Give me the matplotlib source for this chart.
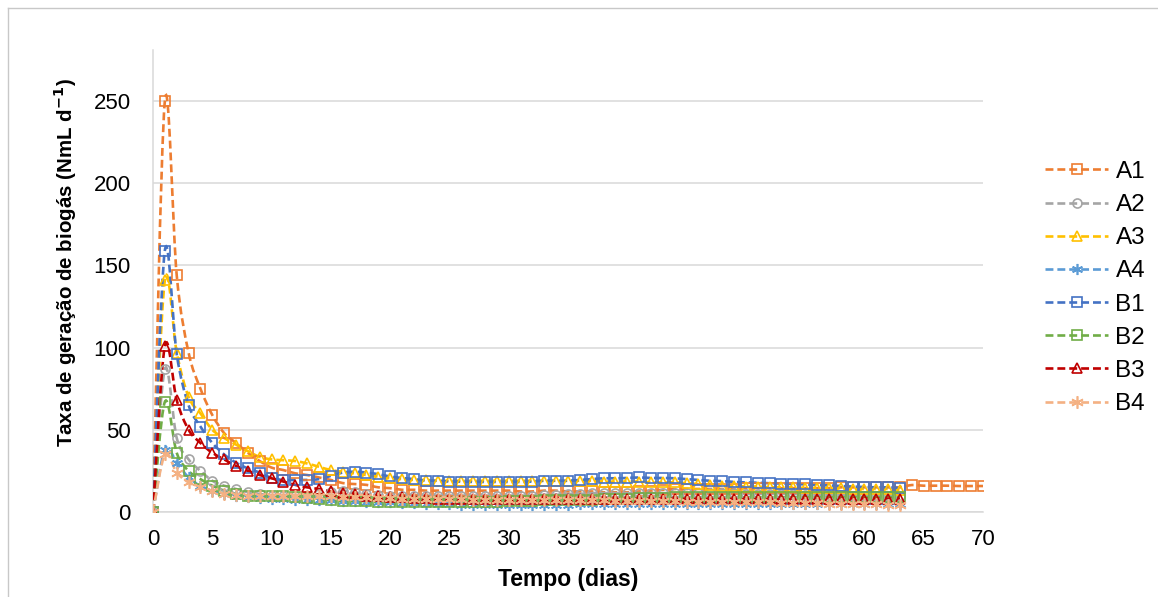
import numpy as np
import matplotlib
matplotlib.use("Agg")
import matplotlib.pyplot as plt
from matplotlib.path import Path
from matplotlib.patches import PathPatch
from matplotlib.lines import Line2D

plt.rcParams['font.family'] = ['Liberation Sans', 'DejaVu Sans']

# days 0..70 for A1, 0..63 for the others
a1 = [0, 250, 144, 97, 75, 59, 48, 42, 36, 31,
      27, 25.5, 23.5, 22.5, 21, 19.5, 17.6, 17, 16.5, 15,
      14.5, 13.5, 13.5, 13, 13, 13, 13, 13, 13, 13,
      13, 12.5, 12.5, 13, 13, 12.5, 12.5, 12.5, 12, 12,
      12, 12.5, 13, 13.5, 14, 14, 14, 14, 14, 14,
      14.5, 14.5, 14.5, 14.5, 14.5, 14.5, 14.5, 14.5, 15, 15,
      15, 15, 15, 15, 16.4, 16, 16, 16, 15.8, 15.8,
      15.8]
a2 = [0, 87, 45, 32, 25, 19, 16, 14, 12, 11,
      10, 10, 10, 10, 11, 12, 13, 12, 11, 10.5,
      10, 10, 10, 10, 10, 10, 10, 10, 10, 10,
      10, 10, 10, 10.5, 10.5, 11, 11, 11.5, 11.5, 11.5,
      11.5, 11.5, 11.5, 11.5, 11.5, 11.5, 11.5, 11.5, 11.5, 11.5,
      11, 11, 11, 11, 11, 10.5, 10.5, 10.5, 10.5, 10,
      10, 10, 10, 10]
a3 = [0, 141, 97, 70, 60, 50, 45, 41, 37, 33.5,
      32, 31.5, 31, 29.5, 27.5, 25.5, 24.5, 23.5, 22.5, 21.5,
      20.5, 20, 19.5, 19.5, 19, 19, 19, 19, 19, 19,
      19, 19, 19, 19, 19, 19, 19, 19, 18.5, 18.5,
      18.5, 18.5, 18, 18, 18, 17.5, 17, 16.5, 16, 16,
      15.5, 15.5, 15, 15, 15, 14.5, 14.5, 14.5, 14.5, 14,
      14, 14, 14, 13.5]
a4 = [0, 38, 30, 21, 16, 13, 11, 10, 9, 8.5,
      8, 8, 7.5, 7, 7, 7, 6.5, 6.5, 6, 6,
      6, 5.5, 5.5, 5, 5, 5, 4.5, 4.5, 4.5, 4.5,
      4.5, 4.5, 4.5, 4.5, 4.5, 4.5, 5, 5, 5, 5,
      5, 5, 5, 5, 5, 5, 5, 5, 5, 5,
      5, 5, 5, 5, 5, 5, 5, 5, 5, 5,
      5, 5, 5, 5]
b1 = [0, 159, 96, 65, 52, 42, 35, 30, 26.5, 24,
      20.7, 19.5, 19.5, 19.5, 20, 22, 24, 24.5, 24, 23,
      21.6, 20.7, 20, 19, 19, 18.5, 18.5, 18.3, 18.3, 18.3,
      18.3, 18.3, 18.5, 19, 19, 19, 19.5, 20, 20.5, 20.5,
      20.7, 21, 20.7, 20.7, 20.5, 20, 19.5, 19, 18.8, 18.3,
      18, 17.8, 17.5, 17.3, 17, 16.8, 16.4, 16.2, 15.8, 15.5,
      15.2, 15, 15, 14.6]
b2 = [0, 67, 36, 25, 20, 16, 13, 11, 10, 10,
      10, 9.5, 9, 8.5, 8, 7, 6.5, 6.5, 6.5, 6,
      6, 6, 6, 6, 6, 6, 6, 6, 6, 6,
      6.5, 6.5, 6.5, 7, 7, 7, 7.5, 7.5, 8, 8,
      8, 8.5, 8.5, 8.5, 9, 9, 9, 9, 9, 9,
      9, 9, 9, 9, 9, 9, 9, 9, 9, 9,
      9, 9, 9, 9]
b3 = [0, 101, 68, 50, 42, 36, 32, 28, 25, 22.5,
      20.5, 18.5, 16.5, 15, 14, 12.5, 11.5, 11, 10, 9.5,
      9, 9, 8.5, 8.5, 8, 8, 8, 8, 8, 8,
      8, 8, 8, 8, 8, 8, 8, 8, 8, 8,
      8, 8, 8, 8, 8, 8, 8, 8, 8, 8,
      8, 8, 8, 8, 8, 8, 8, 8, 8, 8,
      8, 8, 8, 8]
b4 = [0, 35, 24, 18, 15, 13, 11, 10.5, 10, 10,
      10, 10, 10, 10, 9.5, 9.5, 9, 9, 9, 8.5,
      8.5, 8, 8, 8, 8, 8, 8, 7.5, 7.5, 7.5,
      7.5, 7, 7, 7, 7, 7, 7, 7, 7, 6.5,
      6.5, 6.5, 6.5, 6.5, 6.5, 6, 6, 6, 6, 6,
      6, 6, 6, 5.5, 5.5, 5.5, 5.5, 5, 5, 5,
      5, 5, 4.5, 4.5]

labels = ["A1", "A2", "A3", "A4", "B1", "B2", "B3", "B4"]
series = [a1, a2, a3, a4, b1, b2, b3, b4]
colors = ["#ED7D31", "#A5A5A5", "#FFC000", "#5B9BD5",
          "#4472C4", "#70AD47", "#C00000", "#F4B183"]
markers = ["s", "o", "^", (6, 2, 0), "s", "s", "^", (6, 2, 0)]
msizes = [7, 6.5, 7, 8, 7, 7, 7, 9]

DASH = (0, (3, 1.5))


def smooth_path(x, y):
    """Excel style smoothed line: cubic bezier through every point."""
    pts = np.column_stack([x, y]).astype(float)
    n = len(pts)
    verts = [pts[0]]
    codes = [Path.MOVETO]
    for i in range(n - 1):
        p0 = pts[max(i - 1, 0)]
        p1 = pts[i]
        p2 = pts[i + 1]
        p3 = pts[min(i + 2, n - 1)]
        verts += [p1 + (p2 - p0) / 6, p2 - (p3 - p1) / 6, p2]
        codes += [Path.CURVE4] * 3
    return Path(verts, codes)


fig = plt.figure(figsize=(11.58, 5.97), dpi=100)
ax = fig.add_axes([153 / 1158, 85 / 597, 830 / 1158, 462 / 597])

handles = []
for vals, lab, col, mk, ms in zip(series, labels, colors, markers, msizes):
    days = np.arange(len(vals))
    ax.add_patch(PathPatch(smooth_path(days, vals), fill=False, edgecolor=col,
                           lw=1.9, linestyle=DASH, zorder=3))
    ax.plot(days, vals, linestyle="none", marker=mk, markersize=ms,
            markerfacecolor="none", markeredgecolor=col, markeredgewidth=1.2,
            zorder=4)
    handles.append(Line2D([], [], color=col, lw=1.9, linestyle=DASH,
                          marker=mk, markersize=ms, markerfacecolor="none",
                          markeredgecolor=col, markeredgewidth=1.2))

ax.set_xlim(0, 70)
ax.set_ylim(0, 281)
ax.set_xticks(np.arange(0, 71, 5))
ax.set_yticks(np.arange(0, 251, 50))
ax.grid(axis="y", color="#D9D9D9", lw=1.1)
ax.set_axisbelow(True)
for s in ["top", "right"]:
    ax.spines[s].set_visible(False)
for s in ["left", "bottom"]:
    ax.spines[s].set_color("#D9D9D9")
    ax.spines[s].set_linewidth(1.1)
ax.tick_params(length=0, labelsize=16, colors="black")
ax.tick_params(axis="y", pad=16)
ax.tick_params(axis="x", pad=12)

ax.set_xlabel("Tempo (dias)", fontsize=16.5, fontweight="bold", labelpad=13)
ax.set_ylabel("Taxa de geração de biogás (NmL d$^{\\mathbf{-1}}$)",
              fontsize=14.8, fontweight="bold")
ax.yaxis.set_label_coords(-0.089, 0.54)

fig.legend(handles, labels, loc="center left",
           bbox_to_anchor=(1045 / 1158, 1 - 288 / 597), frameon=False,
           fontsize=17.5, handlelength=2.6, handletextpad=0.3,
           labelspacing=0.46, borderpad=0, borderaxespad=0)

# chart area frame (left and top edges visible)
fig.add_artist(Line2D([8 / 1158, 8 / 1158], [0, 1 - 8 / 597],
                      transform=fig.transFigure, color="#C8C8C8", lw=1))
fig.add_artist(Line2D([8 / 1158, 1], [1 - 8 / 597, 1 - 8 / 597],
                      transform=fig.transFigure, color="#C8C8C8", lw=1))

fig.savefig("out.png", dpi=100)
